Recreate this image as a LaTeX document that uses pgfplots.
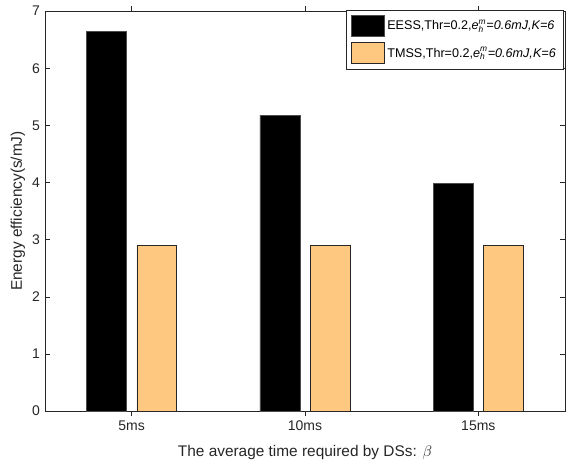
\documentclass[border=0pt]{standalone}
\usepackage{amsmath}
\usepackage{fontspec}
\setmainfont{Liberation Sans}
\usepackage{pgfplots}
\pgfplotsset{compat=1.18}
\definecolor{axgray}{RGB}{38,38,38}
\definecolor{barorange}{RGB}{255,200,128}
\pgfplotsset{bigbar/.style={legend image code/.code={\draw[##1] (0pt,-7.5pt) rectangle (23.6pt,7.5pt);}}}
\begin{document}
\begin{tikzpicture}
\begin{axis}[
 width=371.4pt, height=285.7pt, scale only axis,
 xmin=0.5, xmax=3.5, ymin=0, ymax=7,
 xtick={1,2,3}, xticklabels={5ms,10ms,15ms},
 ytick={0,1,2,3,4,5,6,7},
 tick align=inside, tick pos=both,
 major tick length=3.5pt,
 axis line style={axgray, line width=0.4pt},
 tick style={axgray, line width=0.4pt},
 ticklabel style={font=\fontsize{10}{12}\selectfont, text=axgray},
 /pgf/number format/assume math mode=true,
 label style={font=\fontsize{11}{13}\selectfont, text=axgray},
 xlabel={The average time required by DSs: $\beta$},
 ylabel={Energy efficiency(s/mJ)},
 xlabel style={at={(axis description cs:0.5,-0.1026)}, anchor=center},
 ylabel style={at={(axis description cs:-0.052,0.5)}, anchor=center, rotate=0},
 ybar, bar width=0.23,
 legend style={at={(1,1)}, anchor=north east, xshift=-1.4pt, yshift=0.7pt, draw=axgray, font=\fontsize{9}{11}\selectfont, legend cell align=left, row sep=4pt, inner ysep=3.5pt},
]
\addplot[fill=black, draw=gray!60!black, bar shift=-0.145, bigbar] coordinates {(1,6.65) (2,5.18) (3,3.99)};
\addplot[fill=barorange, draw=axgray, bar shift=0.145, bigbar] coordinates {(1,2.9) (2,2.9) (3,2.9)};
\legend{EESS{,}Thr=0.2{,}\textit{e}$_{\textit{h}}^{\textit{m}}$\textit{=0.6mJ{,}K=6}, TMSS{,}Thr=0.2{,}\textit{e}$_{\textit{h}}^{\textit{m}}$\textit{=0.6mJ{,}K=6}}
\end{axis}
\pgfresetboundingbox
\path[use as bounding box] ([shift={(-32.1pt,-35pt)}]current axis.south west) rectangle ([shift={(0.7pt,7.9pt)}]current axis.north east);
\end{tikzpicture}
\end{document}
